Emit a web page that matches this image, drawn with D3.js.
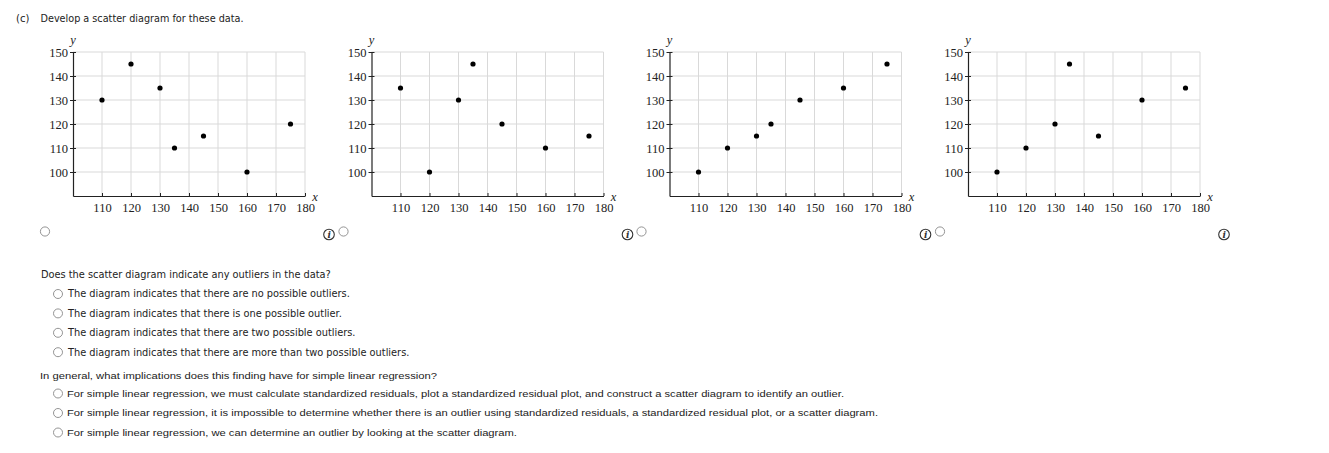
<!DOCTYPE html>
<html>
<head>
<meta charset="utf-8">
<script src="https://cdn.jsdelivr.net/npm/d3@7"></script>
<style>
  body { margin: 0; background: #fff; }
  svg { display: block; }
  .q1 { font-family: "DejaVu Sans", Verdana, sans-serif; font-size: 9.8px; fill: #222; }
  .q2 { font-family: "Liberation Sans", Arial, sans-serif; font-size: 9.5px; fill: #222; }
</style>
</head>
<body>
<div id="chart"></div>
<script>
// x values shared by all four option plots
var xVals = [110, 120, 130, 135, 145, 160, 175];
// y values for the four candidate scatter diagrams
var yOptA = [130, 145, 135, 110, 115, 100, 120];
var yOptB = [135, 100, 130, 145, 120, 110, 115];
var yOptC = [100, 110, 115, 120, 130, 135, 145];
var yOptD = [100, 110, 120, 145, 115, 130, 135];
var xTicks = [110, 120, 130, 140, 150, 160, 170, 180];
var yTicks = [100, 110, 120, 130, 140, 150];

var outlierOptions = [
  "The diagram indicates that there are no possible outliers.",
  "The diagram indicates that there is one possible outlier.",
  "The diagram indicates that there are two possible outliers.",
  "The diagram indicates that there are more than two possible outliers."
];
var implicationOptions = [
  "For simple linear regression, we must calculate standardized residuals, plot a standardized residual plot, and construct a scatter diagram to identify an outlier.",
  "For simple linear regression, it is impossible to determine whether there is an outlier using standardized residuals, a standardized residual plot, or a scatter diagram.",
  "For simple linear regression, we can determine an outlier by looking at the scatter diagram."
];

var W = 1329, H = 453;
var svg = d3.select("#chart").append("svg")
    .attr("width", W)
    .attr("height", H);

svg.append("rect").attr("width", W).attr("height", H).attr("fill", "#fff");

// title
svg.append("text").attr("class", "q1").attr("x", 16).attr("y", 22)
    .style("font-size", "10px").text("(c)");
svg.append("text").attr("class", "q1").attr("x", 40.5).attr("y", 22)
    .style("font-size", "10px")
    .attr("textLength", 203).attr("lengthAdjust", "spacingAndGlyphs")
    .text("Develop a scatter diagram for these data.");

var plotW = 232, plotH = 144, plotTop = 52;
var lefts = [73, 371.5, 669.5, 968];
var allY = [yOptA, yOptB, yOptC, yOptD];

function radio(x, y, r) {
  svg.append("circle")
      .attr("cx", x).attr("cy", y).attr("r", r)
      .attr("fill", "#fff")
      .attr("stroke", "#888")
      .attr("stroke-width", 0.9);
}

function infoIcon(x, y) {
  var g = svg.append("g").attr("transform", "translate(" + x + "," + y + ")");
  g.append("circle").attr("r", 5.3).attr("fill", "none").attr("stroke", "#333").attr("stroke-width", 1.1);
  g.append("text").attr("y", 3.6).attr("x", 0.3)
      .attr("text-anchor", "middle")
      .style("font-family", "DejaVu Serif, serif")
      .style("font-style", "italic")
      .style("font-weight", "bold")
      .style("font-size", "9px")
      .attr("fill", "#333")
      .text("i");
}

function styleTicks(sel) {
  sel.selectAll(".tick text")
      .style("font-family", "'Liberation Serif', 'Times New Roman', serif")
      .style("font-size", "12.5px")
      .attr("fill", "#222");
}

function drawScatter(yVals, left) {
  var x = d3.scaleLinear().domain([100, 180]).range([0, plotW]);
  var y = d3.scaleLinear().domain([90, 150]).range([plotH, 0]);

  var g = svg.append("g")
      .attr("transform", "translate(" + left + "," + plotTop + ")");

  // grid
  g.append("g").selectAll("line.v")
      .data(xTicks).enter().append("line")
      .attr("x1", d => x(d)).attr("x2", d => x(d))
      .attr("y1", 0).attr("y2", plotH)
      .attr("stroke", "#d9d9d9").attr("stroke-width", 1);
  g.append("g").selectAll("line.h")
      .data(yTicks).enter().append("line")
      .attr("x1", 0).attr("x2", plotW)
      .attr("y1", d => y(d)).attr("y2", d => y(d))
      .attr("stroke", "#d9d9d9").attr("stroke-width", 1);

  // x axis
  var xa = g.append("g")
      .attr("transform", "translate(0," + plotH + ")")
      .call(d3.axisBottom(x).tickValues(xTicks).tickSizeInner(-3).tickSizeOuter(0).tickPadding(7.5));
  xa.select(".domain").attr("stroke", "#222").attr("stroke-width", 1.2);
  xa.selectAll(".tick line").attr("stroke", "#222");
  styleTicks(xa);

  // y axis
  var ya = g.append("g")
      .call(d3.axisLeft(y).tickValues(yTicks).tickSizeInner(3).tickSizeOuter(0).tickPadding(2));
  ya.select(".domain").attr("stroke", "#222").attr("stroke-width", 1.2);
  ya.selectAll(".tick line").attr("stroke", "#222").attr("x2", 3).attr("x1", -3);
  styleTicks(ya);

  // axis letters
  g.append("text").attr("x", 0).attr("y", -8)
      .attr("text-anchor", "middle")
      .style("font-family", "Liberation Serif, serif").style("font-style", "italic").style("font-size", "12.5px")
      .attr("fill", "#222").text("y");
  g.append("text").attr("x", plotW + 10).attr("y", plotH + 5)
      .attr("text-anchor", "middle")
      .style("font-family", "Liberation Serif, serif").style("font-style", "italic").style("font-size", "12.5px")
      .attr("fill", "#222").text("x");

  // points
  g.selectAll("circle.pt")
      .data(xVals.map((d, i) => ({x: d, y: yVals[i]})))
      .enter().append("circle")
      .attr("cx", d => x(d.x))
      .attr("cy", d => y(d.y))
      .attr("r", 2.6)
      .attr("fill", "#000");
}

allY.forEach(function(ys, i) {
  drawScatter(ys, lefts[i]);
  radio(lefts[i] - 28, 231.5, 4.6);
  infoIcon(lefts[i] + 256, 234.5);
});

// first question
svg.append("text").attr("class", "q1").attr("x", 41).attr("y", 278)
    .text("Does the scatter diagram indicate any outliers in the data?");
outlierOptions.forEach(function(t, i) {
  var yy = 294 + i * 19.4;
  radio(58, yy, 4.5);
  svg.append("text").attr("class", "q1").attr("x", 68).attr("y", yy + 3.4)
      .text(t);
});

// second question
svg.append("text").attr("class", "q2").attr("x", 40).attr("y", 379)
    .attr("textLength", 397).attr("lengthAdjust", "spacingAndGlyphs")
    .text("In general, what implications does this finding have for simple linear regression?");
var q2Lens = [777, 811, 450];
implicationOptions.forEach(function(t, i) {
  var yy = 393.5 + i * 19.5;
  radio(58, yy, 4.5);
  svg.append("text").attr("class", "q2").attr("x", 67).attr("y", yy + 3.3)
      .attr("textLength", q2Lens[i]).attr("lengthAdjust", "spacingAndGlyphs")
      .text(t);
});
</script>
</body>
</html>
